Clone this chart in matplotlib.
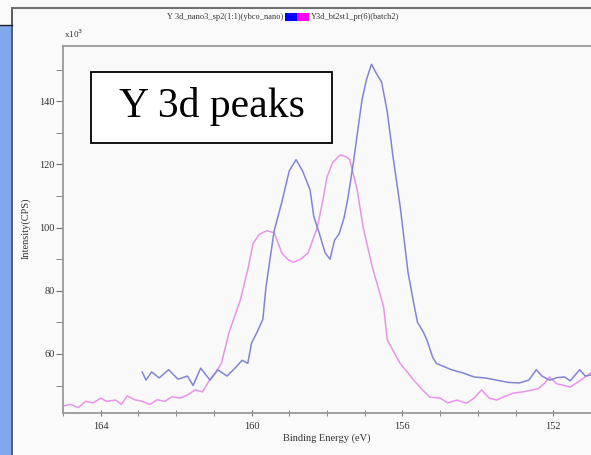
import matplotlib.pyplot as plt
from matplotlib.lines import Line2D
from matplotlib.patches import Rectangle
from matplotlib.ticker import MultipleLocator

# Y 3d spectra, intensity in x10^3 CPS
blue_energy = [162.9, 162.8, 162.65, 162.45, 162.2, 161.95, 161.7, 161.55, 161.35, 161.1,
               160.9, 160.65, 160.4, 160.25, 160.1, 160.0, 159.85, 159.7, 159.62, 159.45,
               159.4, 159.2, 159.0, 158.82, 158.65, 158.45, 158.35, 158.2, 158.05, 157.92,
               157.8, 157.68, 157.55, 157.45, 157.3, 157.17, 157.07, 156.95, 156.82, 156.7,
               156.55, 156.4, 156.25, 156.06, 155.85, 155.7, 155.6, 155.45, 155.35, 155.2,
               155.1, 154.9, 154.7, 154.4, 154.1, 153.8, 153.5, 153.2, 152.9, 152.65,
               152.45, 152.3, 152.1, 151.9, 151.7, 151.55, 151.3, 151.15, 151.0]
blue_counts = [54.3, 51.7, 54.3, 52.4, 55, 52, 53, 50, 55.5, 51.7,
               55, 53, 56, 58, 57, 63.5, 67, 71, 81, 95,
               99, 108, 118, 121.5, 118, 112, 103.5, 98, 92, 90,
               96, 98, 103, 109, 120.6, 132, 140.6, 147, 151.7, 149,
               146, 136.5, 122.5, 106.7, 85.7, 76, 70, 67, 64.4, 59,
               57, 56, 55, 54, 52.7, 52.4, 51.7, 51, 50.8, 51.7,
               55, 53, 51.7, 52.5, 52.7, 51.5, 55, 53, 53.3]

pink_energy = [165.0, 164.8, 164.6, 164.4, 164.2, 164.0, 163.85, 163.6, 163.45, 163.3,
               163.1, 162.9, 162.7, 162.5, 162.3, 162.1, 161.9, 161.7, 161.5, 161.3,
               161.1, 160.95, 160.8, 160.6, 160.3, 160.1, 159.96, 159.8, 159.6, 159.4,
               159.2, 159.05, 158.9, 158.7, 158.5, 158.26, 158.12, 158.0, 157.85, 157.65,
               157.5, 157.4, 157.2, 157.04, 156.8, 156.5, 156.4, 156.2, 156.06, 155.7,
               155.5, 155.27, 155.0, 154.8, 154.55, 154.3, 154.1, 153.9, 153.7, 153.5,
               153.3, 153.06, 152.8, 152.4, 152.25, 152.1, 151.9, 151.7, 151.55, 151.3, 151.0]
pink_counts = [43.5, 44, 43, 45, 44.5, 46, 45, 45.4, 44, 46.7,
               45.5, 45, 44, 45.5, 45, 46.5, 46, 47, 48.6, 48,
               52, 54, 57, 66.7, 77, 86.7, 95, 97.8, 99, 98.4,
               92, 90, 89, 90, 92, 100, 108, 116, 120.6, 123,
               122.5, 121.6, 112, 100, 87.6, 75, 64.4, 60, 57, 51.7,
               49, 46.3, 46, 44.5, 45.4, 44.4, 46, 48.6, 46, 45.4,
               46.5, 47.6, 48, 49, 50.5, 52.7, 50.5, 50, 49.5, 51.5, 54]

x_ticks = [164, 160, 156, 152]
y_ticks = [60, 80, 100, 120, 140]

W, H = 591, 455
fig = plt.figure(figsize=(W / 100, H / 100), dpi=100)
fig.patch.set_facecolor('#fafafa')

def fx(px):
    return px / W

def fy(py):
    return 1 - py / H

# window frame bits
fig.add_artist(Rectangle((0, 0), fx(11), fy(25), transform=fig.transFigure,
                         facecolor='#80a8ec', edgecolor='none'))
fig.add_artist(Line2D([fx(11.5), fx(11.5)], [0, fy(8)], transform=fig.transFigure,
                      color='#404040', lw=1.2))
fig.add_artist(Line2D([0, fx(11.5)], [fy(24.5), fy(24.5)], transform=fig.transFigure,
                      color='#202020', lw=1.0))
fig.add_artist(Line2D([fx(11.5), 1], [fy(8), fy(8)], transform=fig.transFigure,
                      color='#707070', lw=1.5))

ax = fig.add_axes([fx(63), fy(413), fx(591) - fx(63), fy(46) - fy(413)])
ax.set_facecolor('#f9f9f9')
ax.plot(pink_energy, pink_counts, color='#e894e8', lw=1.1)
ax.plot(blue_energy, blue_counts, color='#8284d6', lw=1.1)

ax.set_xlim(165, 151)
ax.set_ylim(41.3, 157.5)
ax.set_xticks(x_ticks)
ax.set_yticks(y_ticks)
ax.xaxis.set_minor_locator(MultipleLocator(1))
ax.yaxis.set_minor_locator(MultipleLocator(10))
ax.tick_params(axis='x', which='both', direction='inout', length=5, color='#777777',
               labelsize=7.5, labelcolor='#333333', pad=4)
ax.tick_params(axis='y', which='both', direction='out', length=5, color='#777777',
               labelsize=7.5, labelcolor='#333333', pad=1)
for lab in ax.get_xticklabels() + ax.get_yticklabels():
    lab.set_family('Liberation Serif')
for side in ['left', 'bottom', 'top']:
    ax.spines[side].set_color('#999999')
    ax.spines[side].set_linewidth(1.3)
ax.spines['right'].set_visible(False)

ax.set_xlabel('Binding Energy (eV)', family='Liberation Serif', fontsize=7.5,
              color='#333333', labelpad=2)
fig.text(fx(26), fy(228), 'Intensity(CPS)', rotation=90, ha='center', va='center',
         family='Liberation Serif', fontsize=7.5, color='#333333')
fig.text(fx(64), fy(40), r'x10$^3$', ha='left', va='bottom',
         family='Liberation Serif', fontsize=6.5, color='#333333')

# title with legend swatches
fig.text(fx(283), fy(17), 'Y 3d_nano3_sp2(1:1)(ybco_nano)', ha='right', va='center',
         family='Liberation Serif', fontsize=6, color='#333333')
fig.add_artist(Rectangle((fx(285), fy(21)), fx(12), fy(13) - fy(21), transform=fig.transFigure,
                         facecolor='#0000ff', edgecolor='none'))
fig.add_artist(Rectangle((fx(297), fy(21)), fx(12), fy(13) - fy(21), transform=fig.transFigure,
                         facecolor='#ff00ff', edgecolor='none'))
fig.text(fx(311), fy(17), 'Y3d_bt2st1_pr(6)(batch2)', ha='left', va='center',
         family='Liberation Serif', fontsize=6, color='#333333')

# annotation box
fig.add_artist(Rectangle((fx(91), fy(143)), fx(332) - fx(91), fy(72) - fy(143),
                         transform=fig.transFigure, facecolor='white',
                         edgecolor='black', lw=1.3))
fig.text(fx(212), fy(107), 'Y 3d peaks', ha='center', va='center',
         family='Liberation Serif', fontsize=30, color='black')

fig.savefig('out.png', dpi=100, facecolor=fig.get_facecolor())
